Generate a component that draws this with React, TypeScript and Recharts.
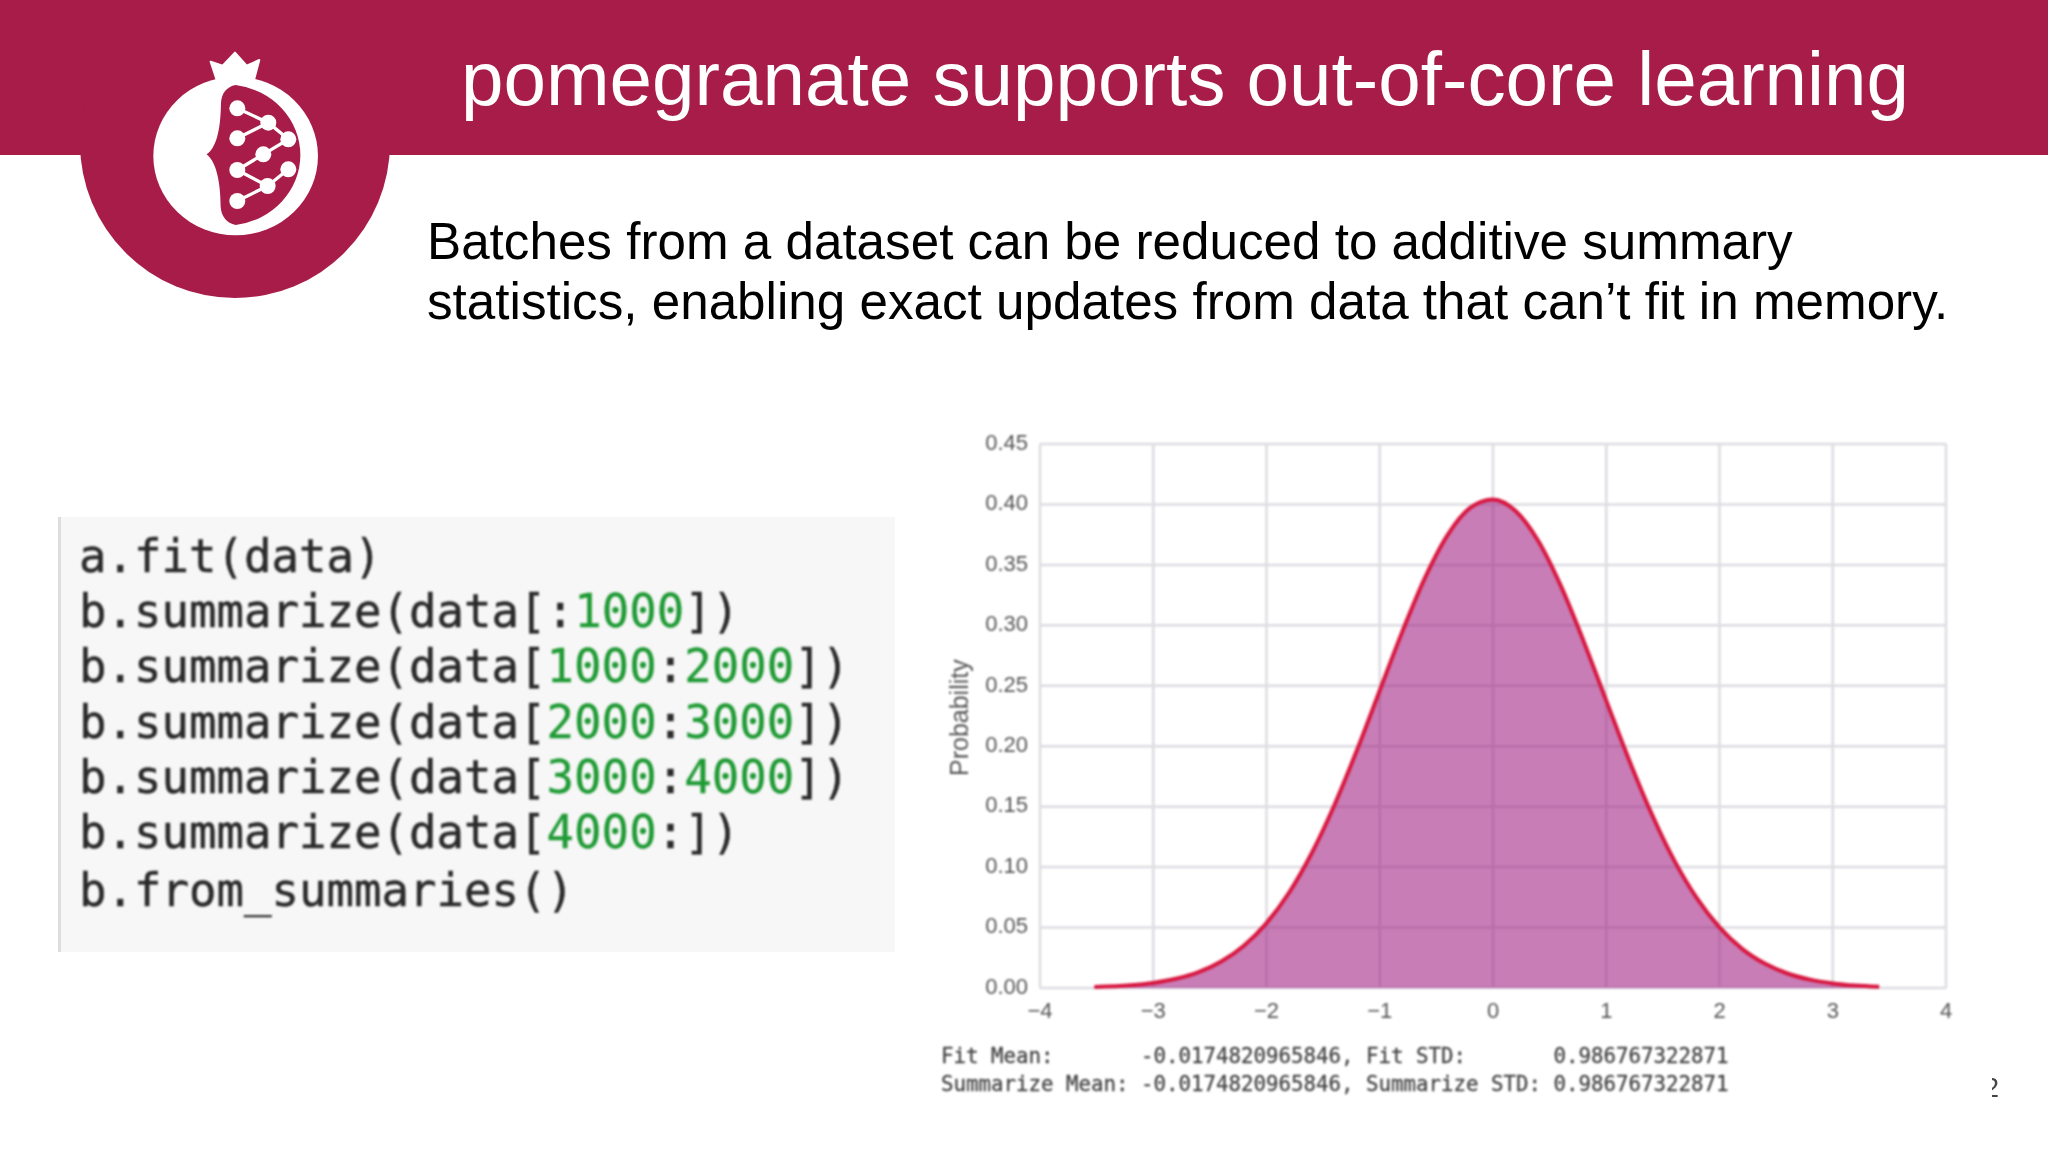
import React from 'react';
import { ComposedChart, Area, XAxis, YAxis, CartesianGrid } from 'recharts';

const xValues = [-3.52,-3.2,-3.0,-2.8,-2.6,-2.4,-2.2,-2.0,-1.8,-1.6,-1.4,-1.2,-1.0,-0.8,-0.6,-0.4,-0.2,0,0.2,0.4,0.6,0.8,1.0,1.2,1.4,1.6,1.8,2.0,2.2,2.4,2.6,2.8,3.0,3.2,3.41];
const probability = [0.0008,0.0022,0.0042,0.0076,0.0131,0.0219,0.035,0.0537,0.079,0.1117,0.1514,0.197,0.2461,0.295,0.3395,0.3749,0.3973,0.4041,0.3945,0.3697,0.3324,0.2869,0.2377,0.189,0.1442,0.1056,0.0743,0.0501,0.0324,0.0202,0.012,0.0069,0.0038,0.002,0.001];
const xTicks = [-4,-3,-2,-1,0,1,2,3,4];
const yTicks = [0,0.05,0.1,0.15,0.2,0.25,0.3,0.35,0.4,0.45];
const title = 'pomegranate supports out-of-core learning';
const bodyLines = ['Batches from a dataset can be reduced to additive summary','statistics, enabling exact updates from data that can’t fit in memory.'];
const codeLines: [string,string,string,string,string][] = [
  ['a.fit(data)','','','',''],
  ['b.summarize(data[:','1000','','','])'],
  ['b.summarize(data[','1000',':','2000','])'],
  ['b.summarize(data[','2000',':','3000','])'],
  ['b.summarize(data[','3000',':','4000','])'],
  ['b.summarize(data[','4000',':','','])'],
  ['b.from_summaries()','','','',''],
];
const outputLines = ['Fit Mean:       -0.0174820965846, Fit STD:       0.986767322871','Summarize Mean: -0.0174820965846, Summarize STD: 0.986767322871'];

const chartData = xValues.map((x, i) => ({ x, p: probability[i] }));
const MAROON = '#a81c49';
const abs = (left: number, top: number, extra: React.CSSProperties = {}): React.CSSProperties => ({ position: 'absolute', left, top, whiteSpace: 'pre', ...extra });
const nodes = [[712,325],[805,368],[712,415],[865,418],[790,463],[712,510],[865,508],[803,558],[712,603]];
const edges = [[0,1],[1,2],[1,3],[3,4],[4,5],[5,7],[7,6],[7,8]];

export default function App() {
  return (
    <div style={{ position: 'fixed', left: 0, top: 0, width: 2048, height: 1152, background: '#fff', overflow: 'hidden', fontFamily: 'Liberation Sans' }}>
      <div style={abs(0, 0, { width: 2048, height: 155, background: MAROON })} />
      <svg width={500} height={320} style={abs(0, 0)}>
        <circle cx={235} cy={143} r={155} fill={MAROON} />
        <g transform="scale(0.3333)">
          <ellipse cx={707} cy={468} rx={247} ry={238} fill="#fff" />
          <polygon points="650,240 632,185 668,197 705,158 740,197 778,180 762,240" fill="#fff" stroke="#fff" strokeWidth={6} strokeLinejoin="round" />
          <path d="M707,255 A225,212 0 0 1 707,675 C680,668 664,650 662,620 C662,570 655,490 620,463 C655,440 662,370 663,310 C664,280 680,260 707,255 Z" fill={MAROON} />
          {edges.map(([a, b], i) => <line key={i} x1={nodes[a][0]} y1={nodes[a][1]} x2={nodes[b][0]} y2={nodes[b][1]} stroke="#fff" strokeWidth={10} />)}
          {nodes.map(([cx, cy], i) => <circle key={i} cx={cx} cy={cy} r={24} fill="#fff" />)}
        </g>
      </svg>
      <div style={abs(461, 34, { color: '#fff', fontSize: 76.4, lineHeight: '90px' })}>{title}</div>
      {bodyLines.map((l, i) => (
        <div key={i} style={abs(427, 212 + i * 60, { color: '#000', fontSize: 51.2, lineHeight: '60px' })}>{l}</div>
      ))}
      <div style={abs(58, 517, { width: 837, height: 435, background: '#f7f7f7', borderLeft: '3px solid #ddd', boxSizing: 'border-box', filter: 'blur(0.6px)' })} />
      <div style={{ filter: 'blur(1px)' }}>
        {codeLines.map(([a, n1, c, n2, z], i) => (
          <div key={i} style={abs(79, 529 + i * 55.2 + (i === 6 ? 3 : 0), { fontFamily: 'DejaVu Sans Mono', fontSize: 45.7, lineHeight: '55px', color: '#2a2a2a', WebkitTextStroke: '0.5px #2a2a2a' })}>
            {a}<span style={{ color: '#1f9a34', WebkitTextStroke: '0.3px #1f9a34' }}>{n1}</span>{c}<span style={{ color: '#1f9a34', WebkitTextStroke: '0.3px #1f9a34' }}>{n2}</span>{z}
          </div>
        ))}
        {outputLines.map((l, i) => (
          <div key={i} style={abs(941, 1043 + i * 27.5, { fontFamily: 'DejaVu Sans Mono', fontSize: 20.77, lineHeight: '27px', color: '#444', WebkitTextStroke: '0.3px #444' })}>{l}</div>
        ))}
      </div>
      <div style={abs(1992, 1070, { width: 10, height: 36, overflow: 'hidden', filter: 'blur(0.5px)' })}>
        <span style={{ position: 'absolute', left: -8, top: 0, fontSize: 27, lineHeight: '36px', color: '#444' }}>2</span>
      </div>
      <div style={abs(900, 420, { filter: 'blur(0.9px)' })}>
        <ComposedChart width={1100} height={620} data={chartData} margin={{ top: 24, right: 54, bottom: 22, left: 70 }}>
          <CartesianGrid stroke="#dcdce2" strokeWidth={2.5} />
          <XAxis type="number" dataKey="x" domain={[-4, 4]} ticks={xTicks} height={30} axisLine={false} tickLine={false} tickMargin={8}
            tick={{ fill: '#555', fontSize: 22, fontFamily: 'Liberation Sans' }} tickFormatter={(v: number) => String(v).replace('-', '−')} interval={0} />
          <YAxis type="number" domain={[0, 0.45]} ticks={yTicks} width={70} axisLine={false} tickLine={false} tickMargin={6}
            tick={{ fill: '#555', fontSize: 22, fontFamily: 'Liberation Sans', dy: -2 }} tickFormatter={(v: number) => v.toFixed(2)} interval={0}
            label={{ value: 'Probability', angle: -90, position: 'insideLeft', dx: -16, dy: 60, fill: '#555', fontSize: 25, fontFamily: 'Liberation Sans' }} />
          <Area type="monotone" dataKey="p" stroke="#d8163f" strokeWidth={4} fill="#a01f82" fillOpacity={0.58} dot={false} activeDot={false} isAnimationActive={false} />
        </ComposedChart>
      </div>
    </div>
  );
}
